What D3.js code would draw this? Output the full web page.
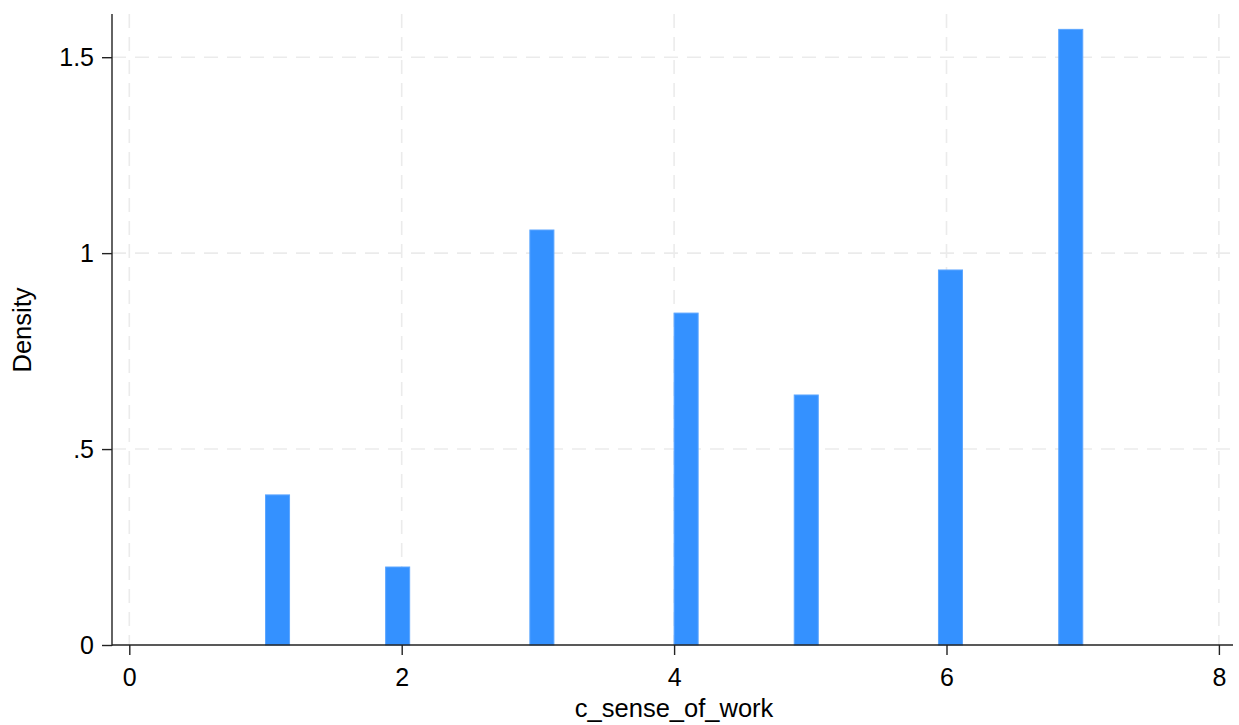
<!DOCTYPE html>
<html>
<head>
<meta charset="utf-8">
<script src="https://cdn.jsdelivr.net/npm/d3@7"></script>
<style>
  html, body { margin: 0; padding: 0; background: #fff; }
  svg { display: block; }
  text { font-family: "Liberation Sans", Arial, Helvetica, sans-serif; fill: #000; }
</style>
</head>
<body>
<svg id="chart" width="1239" height="725"></svg>
<script>
// ---- data ----
const binStarts = [1.000, 1.882, 2.941, 4.000, 4.882, 5.941, 6.824];
const binWidth = 0.1765;
const densities = [0.383, 0.199, 1.059, 0.847, 0.638, 0.957, 1.571];
const xTicks = [0, 2, 4, 6, 8];
const yTicks = [0, 0.5, 1, 1.5];
const yTickLabels = ["0", ".5", "1", "1.5"];
const xTitle = "c_sense_of_work";
const yTitle = "Density";

// ---- layout ----
const W = 1239, H = 725;
const axisLeft = 112, axisBottom = 645, axisTop = 14, axisRight = 1233;
const tickFont = 25, titleFont = 25.5;

const x = d3.scaleLinear().domain([0, 8]).range([129.3, 1218.9]);
const y = d3.scaleLinear().domain([0, 1.5]).range([645, 57.2]);

const svg = d3.select("#chart");
svg.append("rect").attr("width", W).attr("height", H).attr("fill", "#fff");

// grid
const grid = svg.append("g");
grid.selectAll("line.h").data(yTicks.filter(d => d > 0)).join("line")
  .attr("x1", axisLeft).attr("x2", 1237)
  .attr("y1", d => y(d)).attr("y2", d => y(d))
  .attr("stroke", "#ebebeb").attr("stroke-width", 1.6)
  .attr("stroke-dasharray", "14,9");
grid.selectAll("line.v").data(xTicks).join("line")
  .attr("x1", d => x(d)).attr("x2", d => x(d))
  .attr("y1", axisTop).attr("y2", axisBottom)
  .attr("stroke", "#ebebeb").attr("stroke-width", 1.6)
  .attr("stroke-dasharray", "14,9");

// bars
svg.append("g").selectAll("rect").data(binStarts).join("rect")
  .attr("x", (d) => x(d))
  .attr("width", (d) => x(d + binWidth) - x(d))
  .attr("y", (d, i) => y(densities[i]))
  .attr("height", (d, i) => y(0) - y(densities[i]))
  .attr("fill", "#3491ff")
  .attr("stroke", "#5ca6ff")
  .attr("stroke-width", 1);

// axes
const xAxis = d3.axisBottom(x).tickValues(xTicks).tickSize(10).tickPadding(13)
  .tickFormat(d3.format("d"));
const gx = svg.append("g").attr("transform", `translate(0,${axisBottom})`).call(xAxis);
gx.select(".domain").remove();
gx.append("line").attr("x1", axisLeft).attr("x2", axisRight)
  .attr("stroke", "#222").attr("stroke-width", 1.4);
gx.selectAll(".tick line").attr("stroke", "#222").attr("stroke-width", 1.4);
gx.selectAll(".tick text").attr("font-size", tickFont).attr("fill", "#000")
  .attr("font-family", "Liberation Sans, Arial, sans-serif");

const yAxis = d3.axisLeft(y).tickValues(yTicks).tickSize(10).tickPadding(8)
  .tickFormat((d, i) => yTickLabels[i]);
const gy = svg.append("g").attr("transform", `translate(${axisLeft},0)`).call(yAxis);
gy.select(".domain").remove();
gy.append("line").attr("y1", axisTop).attr("y2", axisBottom + 0.7)
  .attr("stroke", "#222").attr("stroke-width", 1.4);
gy.selectAll(".tick line").attr("stroke", "#222").attr("stroke-width", 1.4);
gy.selectAll(".tick text").attr("font-size", tickFont).attr("fill", "#000")
  .attr("font-family", "Liberation Sans, Arial, sans-serif");

// titles
svg.append("text").attr("x", x(4)).attr("y", 717)
  .attr("text-anchor", "middle").attr("font-size", titleFont).text(xTitle);
svg.append("text").attr("transform", `translate(30.5,${330}) rotate(-90)`)
  .attr("text-anchor", "middle").attr("font-size", titleFont).text(yTitle);
</script>
</body>
</html>
